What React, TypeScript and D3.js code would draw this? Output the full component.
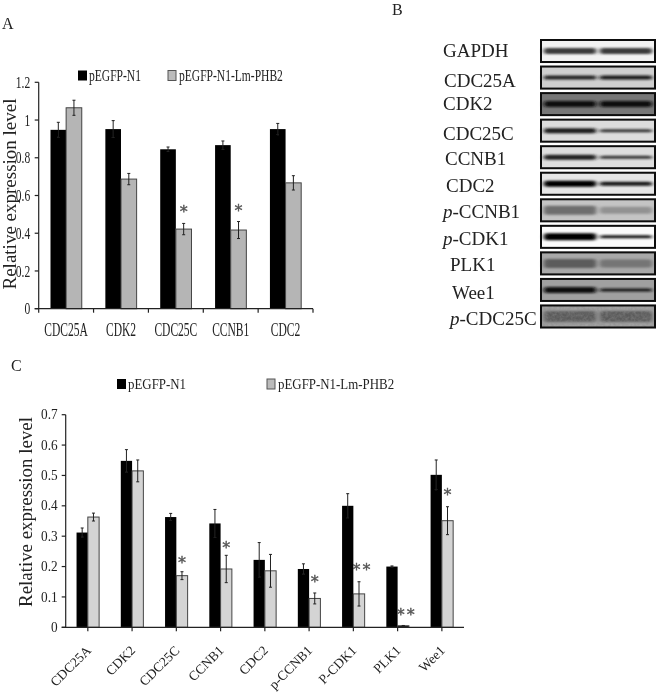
import React from "react";
import * as d3 from "d3";

// panel A
const catsA = ["CDC25A", "CDK2", "CDC25C", "CCNB1", "CDC2"];
const ctrlA = [0.948, 0.952, 0.845, 0.867, 0.952];
const ctrlErrA = [0.04, 0.045, 0.012, 0.022, 0.03];
const phbA = [1.065, 0.687, 0.422, 0.417, 0.667];
const phbErrA = [0.04, 0.03, 0.03, 0.045, 0.038];
const ticksA = [0, 0.2, 0.4, 0.6, 0.8, 1, 1.2];
const starsA = [
  { cat: "CDC25C", level: 0.53, mark: "*" },
  { cat: "CCNB1", level: 0.535, mark: "*" },
];

// panel C
const catsC = ["CDC25A", "CDK2", "CDC25C", "CCNB1", "CDC2", "p-CCNB1", "P-CDK1", "PLK1", "Wee1"];
const ctrlC = [0.312, 0.548, 0.363, 0.342, 0.222, 0.192, 0.4, 0.2, 0.502];
const ctrlErrC = [0.015, 0.037, 0.012, 0.046, 0.057, 0.017, 0.04, 0.002, 0.049];
const phbC = [0.363, 0.515, 0.17, 0.192, 0.186, 0.095, 0.11, 0.005, 0.351];
const phbErrC = [0.013, 0.036, 0.013, 0.045, 0.054, 0.018, 0.04, 0.001, 0.046];
const ticksC = [0, 0.1, 0.2, 0.3, 0.4, 0.5, 0.6, 0.7];
const starsC = [
  { cat: "CDC25C", level: 0.22, mark: "*" },
  { cat: "CCNB1", level: 0.272, mark: "*" },
  { cat: "p-CCNB1", level: 0.16, mark: "*" },
  { cat: "P-CDK1", level: 0.2, mark: "**" },
  { cat: "PLK1", level: 0.05, mark: "**" },
  { cat: "Wee1", level: 0.447, mark: "*" },
];

// panel B, western blots
const blotNames = ["GAPDH", "CDC25A", "CDK2", "CDC25C", "CCNB1", "CDC2", "p-CCNB1", "p-CDK1", "PLK1", "Wee1", "p-CDC25C"];
const blotBackground = ["#f2f2f2", "#cfcfcf", "#767676", "#dcdcdc", "#dedede", "#e6e6e6", "#c4c4c4", "#fbfbfb", "#a8a8a8", "#a0a0a0", "#a2a2a2"];
const blotLeftTone = ["#3a3a3a", "#222222", "#0c0c0c", "#1c1c1c", "#222222", "#050505", "#6e6e6e", "#000000", "#5c5c5c", "#080808", "#5a5a5a"];
const blotRightTone = ["#3a3a3a", "#181818", "#0c0c0c", "#303030", "#333333", "#141414", "#929292", "#141414", "#747474", "#141414", "#5a5a5a"];
const blotLeftThick = [6, 4, 6, 5, 5, 6, 9, 7, 9, 6, 11];
const blotRightThick = [6, 4, 6, 3, 3, 4, 7, 3, 8, 3, 11];
const blotLabelShift = [0, 1, 0, 0, 2, 3, 0, 0, 7, 9, 7];
const blotLabelDrop = [0, 3, 0, 3, 2, 2, 2, 2, 2, 3, 3];

const serif = "'Liberation Serif', serif";
const textCol = "#222";

type ChartProps = {
  cats: string[];
  ctrl: number[];
  ctrlErr: number[];
  phb: number[];
  phbErr: number[];
  ticks: number[];
  stars: { cat: string; level: number; mark: string }[];
  yMax: number;
  left: number;
  right: number;
  top: number;
  bottom: number;
  phbFill: string;
  barPad: number;
  tickGap: number;
  tickFont: number;
  tickSqueeze: number;
  between: boolean;
};

function Bars(p: ChartProps) {
  const x = d3.scaleBand().domain(p.cats).range([p.left, p.right]);
  const y = d3.scaleLinear().domain([0, p.yMax]).range([p.bottom, p.top]);
  const barW = (x.bandwidth() * (1 - p.barPad)) / 2;
  const mid = (c: string) => x(c)! + x.bandwidth() / 2;
  const axisCol = "#222";
  const tickSize = 4;

  const tickXs = p.between
    ? d3.range(p.cats.length + 1).map((i) => p.left + i * x.step())
    : p.cats.map(mid);

  const err = (cx: number, v: number, e: number) => (
    <g stroke="#222" strokeWidth={1}>
      <line x1={cx} x2={cx} y1={y(v - e)} y2={y(v + e)} />
      <line x1={cx - 1.5} x2={cx + 1.5} y1={y(v + e)} y2={y(v + e)} />
      <line x1={cx - 1.5} x2={cx + 1.5} y1={y(v - e)} y2={y(v - e)} />
    </g>
  );

  return (
    <g>
      {p.cats.map((c, i) => (
        <g key={c}>
          <rect x={mid(c) - barW} y={y(p.ctrl[i])} width={barW} height={p.bottom - y(p.ctrl[i])} fill="#000" />
          <rect
            x={mid(c)}
            y={y(p.phb[i])}
            width={barW}
            height={p.bottom - y(p.phb[i])}
            fill={c === "PLK1" ? "#000" : p.phbFill}
            stroke="#444"
            strokeWidth={1}
          />
          {err(mid(c) - barW / 2, p.ctrl[i], p.ctrlErr[i])}
          {err(mid(c) + barW / 2, p.phb[i], p.phbErr[i])}
        </g>
      ))}
      {p.stars.map((s) => (
        <text
          key={s.cat}
          x={mid(s.cat) + barW / 2 + (s.mark.length > 1 ? 3.5 : 0)}
          y={y(s.level) + 8}
          textAnchor="middle"
          fontFamily="'DejaVu Sans', sans-serif"
          fontSize={16}
          letterSpacing={s.mark.length > 1 ? 2 : 0}
          fill="#555"
          stroke="#555"
          strokeWidth={0.4}
        >
          {s.mark}
        </text>
      ))}
      <line x1={p.left} x2={p.left} y1={p.top} y2={p.bottom} stroke={axisCol} strokeWidth={1.2} />
      <line x1={p.left - tickSize} x2={p.right} y1={p.bottom} y2={p.bottom} stroke={axisCol} strokeWidth={1.2} />
      {p.ticks.map((t) => (
        <g key={t}>
          <line x1={p.left - tickSize} x2={p.left} y1={y(t)} y2={y(t)} stroke={axisCol} strokeWidth={1.2} />
          <text
            transform={`translate(${p.left - tickSize - p.tickGap},${y(t) + p.tickFont * 0.33}) scale(${p.tickSqueeze},1)`}
            textAnchor="end"
            fontFamily={serif}
            fontSize={p.tickFont}
            fill={textCol}
          >
            {t}
          </text>
        </g>
      ))}
      {tickXs.map((tx) => (
        <line key={tx} x1={tx} x2={tx} y1={p.bottom} y2={p.bottom + tickSize} stroke={axisCol} strokeWidth={1.2} />
      ))}
    </g>
  );
}

function Legend({ x1, x2, y, squeeze, size }: { x1: number; x2: number; y: number; squeeze: number; size: number }) {
  const t = (tx: number, s: string) => (
    <text transform={`translate(${tx},${y + 10}) scale(${squeeze},1)`} fontFamily={serif} fontSize={size} fill={textCol}>
      {s}
    </text>
  );
  return (
    <g>
      <rect x={x1} y={y} width={9} height={10} fill="#000" />
      {t(x1 + 11, "pEGFP-N1")}
      <rect x={x2} y={y} width={8} height={10} fill="#bbb" stroke="#555" strokeWidth={1} />
      {t(x2 + 11, "pEGFP-N1-Lm-PHB2")}
    </g>
  );
}

function Blots() {
  const y = d3.scaleBand().domain(blotNames).range([40, 327.5]).paddingInner(0.17);
  const lane = d3.scaleBand().domain(["left", "right"]).range([541, 655]).paddingInner(0.06).paddingOuter(0.05);
  const labelX = 443;
  return (
    <g>
      <defs>
        <filter id="blotBlur" x="-10%" y="-100%" width="120%" height="300%">
          <feGaussianBlur stdDeviation="2 1.1" />
        </filter>
        <filter id="blotGrain" x="0" y="0" width="100%" height="100%">
          <feTurbulence type="fractalNoise" baseFrequency="0.35" numOctaves={2} seed={4} />
          <feColorMatrix values="0 0 0 0 0.25  0 0 0 0 0.25  0 0 0 0 0.25  1.6 0 0 0 -0.45" />
        </filter>
      </defs>
      {blotNames.map((name, i) => {
        const top = y(name)!;
        const h = y.bandwidth();
        const phospho = name.startsWith("p-");
        return (
          <g key={name}>
            <text
              x={labelX + blotLabelShift[i]}
              y={top + h / 2 + 6 + blotLabelDrop[i]}
              fontFamily={serif}
              fontSize={19}
              fill={textCol}
            >
              {phospho ? <tspan fontStyle="italic">p</tspan> : null}
              {phospho ? name.slice(1) : name}
            </text>
            <rect x={541} y={top} width={114} height={h} fill={blotBackground[i]} />
            <rect
              x={lane("left")!}
              y={top + h / 2 - blotLeftThick[i] / 2}
              width={lane.bandwidth()}
              height={blotLeftThick[i]}
              rx={3}
              fill={blotLeftTone[i]}
              filter="url(#blotBlur)"
            />
            <rect
              x={lane("right")!}
              y={top + h / 2 - blotRightThick[i] / 2}
              width={lane.bandwidth()}
              height={blotRightThick[i]}
              rx={3}
              fill={blotRightTone[i]}
              filter="url(#blotBlur)"
            />
            {name === "p-CDC25C" ? (
              <rect x={541} y={top} width={114} height={h} filter="url(#blotGrain)" opacity={0.6} />
            ) : null}
            <rect x={541} y={top} width={114} height={h} fill="none" stroke="#0a0a0a" strokeWidth={2} />
          </g>
        );
      })}
    </g>
  );
}

export default function App() {
  const leftC = 65.7;
  const rightC = 464;
  const xC = d3.scaleBand().domain(catsC).range([leftC, rightC]);
  const bottomC = 627.3;

  return (
    <svg width={666} height={695} style={{ position: "absolute", left: 0, top: 0, background: "#fff" }}>
      <defs>
        <filter id="soft" x="0" y="0" width="100%" height="100%" filterUnits="userSpaceOnUse">
          <feGaussianBlur stdDeviation="0.4" />
        </filter>
      </defs>
      <rect width={666} height={695} fill="#fff" />
      <g filter="url(#soft)">
        <text x={2} y={29} fontFamily={serif} fontSize={16} fill={textCol}>A</text>
        <text x={392} y={15} fontFamily={serif} fontSize={16} fill={textCol}>B</text>
        <text x={11} y={371} fontFamily={serif} fontSize={16} fill={textCol}>C</text>

        {/* A */}
        <Legend x1={78} x2={168} y={70.5} squeeze={0.68} size={17} />
        <Bars
          cats={catsA}
          ctrl={ctrlA}
          ctrlErr={ctrlErrA}
          phb={phbA}
          phbErr={phbErrA}
          ticks={ticksA}
          stars={starsA}
          yMax={1.2}
          left={38.7}
          right={313}
          top={82.3}
          bottom={308.7}
          phbFill="#b5b5b5"
          barPad={0.43}
          tickGap={4.5}
          tickFont={17}
          tickSqueeze={0.68}
          between={true}
        />
        <text
          transform="translate(16,194) rotate(-90)"
          textAnchor="middle"
          fontFamily={serif}
          fontSize={19}
          fill={textCol}
        >
          Relative expression level
        </text>
        {catsA.map((c, i) => (
          <text
            key={c}
            transform={`translate(${38.7 + (i + 0.5) * (274.3 / catsA.length)},336) scale(0.64,1)`}
            textAnchor="middle"
            fontFamily={serif}
            fontSize={18}
            fill={textCol}
          >
            {c}
          </text>
        ))}

        <Blots />

        {/* C */}
        <Legend x1={117} x2={267} y={379} squeeze={0.89} size={14.5} />
        <Bars
          cats={catsC}
          ctrl={ctrlC}
          ctrlErr={ctrlErrC}
          phb={phbC}
          phbErr={phbErrC}
          ticks={ticksC}
          stars={starsC}
          yMax={0.7}
          left={leftC}
          right={rightC}
          top={414.7}
          bottom={bottomC}
          phbFill="#d4d4d4"
          barPad={0.49}
          tickGap={4}
          tickFont={14}
          tickSqueeze={0.95}
          between={false}
        />
        <text
          transform="translate(31.5,512) rotate(-90)"
          textAnchor="middle"
          fontFamily={serif}
          fontSize={18.9}
          fill={textCol}
        >
          Relative expression level
        </text>
        {catsC.map((c) => (
          <text
            key={c}
            transform={`translate(${xC(c)! + xC.bandwidth() / 2 + 4},${bottomC + 24}) rotate(-45)`}
            textAnchor="end"
            fontFamily={serif}
            fontSize={13.5}
            fill={textCol}
          >
            {c}
          </text>
        ))}
      </g>
    </svg>
  );
}
